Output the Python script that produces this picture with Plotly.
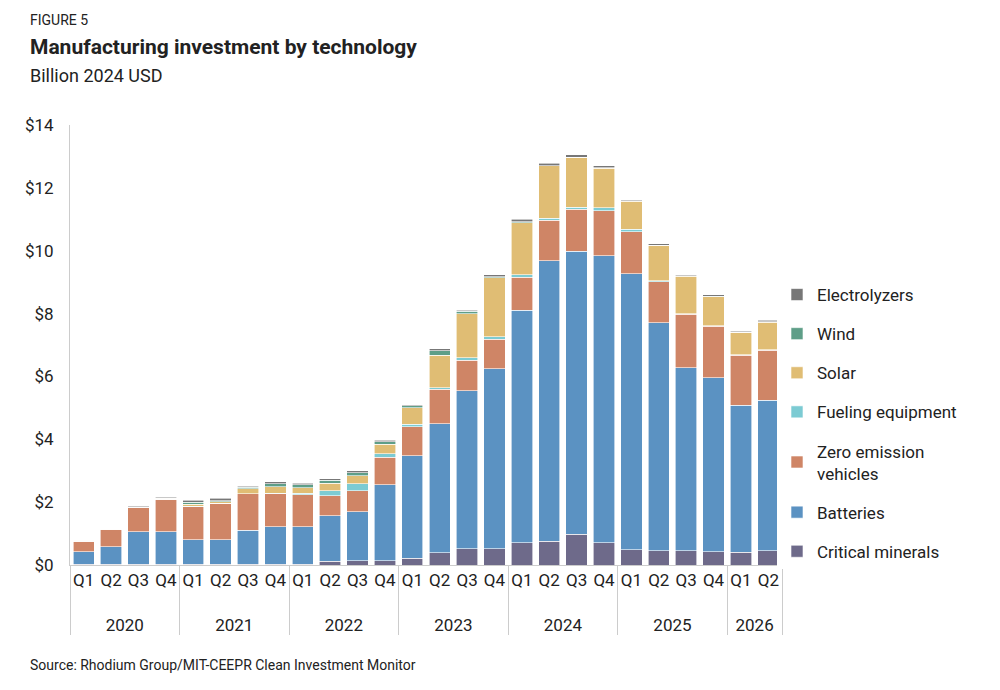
import plotly.graph_objects as go

years = ["2020"]*4 + ["2021"]*4 + ["2022"]*4 + ["2023"]*4 + ["2024"]*4 + ["2025"]*4 + ["2026"]*2
quarters = ["Q1", "Q2", "Q3", "Q4"]*6 + ["Q1", "Q2"]

critical_minerals = [0.02,0.02,0.02,0.02, 0.02,0.02,0.02,0.02, 0.02,0.12,0.14,0.14, 0.21,0.39,0.51,0.51, 0.71,0.76,0.98,0.71, 0.48,0.46,0.46,0.42, 0.40,0.45]
batteries = [0.40,0.56,1.04,1.04, 0.78,0.78,1.09,1.20, 1.20,1.44,1.55,2.42, 3.27,4.11,5.04,5.73, 7.40,8.92,9.01,9.13, 8.79,7.25,5.81,5.54, 4.69,4.79]
zev = [0.34,0.54,0.78,1.04, 1.06,1.16,1.15,1.04, 1.02,0.64,0.67,0.87, 0.92,1.09,0.96,0.94, 1.04,1.29,1.33,1.43, 1.34,1.31,1.71,1.64, 1.58,1.59]
fueling = [0,0,0,0, 0.01,0.01,0.01,0.02, 0.04,0.16,0.23,0.11, 0.08,0.05,0.09,0.09, 0.09,0.07,0.07,0.09, 0.08,0.02,0.02,0.02, 0.02,0.02]
solar = [0.02,0.02,0.02,0.03, 0.07,0.05,0.15,0.21, 0.18,0.24,0.25,0.30, 0.53,1.04,1.40,1.87, 1.65,1.66,1.58,1.27, 0.89,1.13,1.19,0.92, 0.71,0.88]
wind = [0,0,0,0, 0.06,0.03,0.06,0.10, 0.10,0.10,0.09,0.08, 0.06,0.14,0.07,0.03, 0.03,0.01,0.01,0.01, 0.01,0.01,0.01,0.01, 0.01,0.01]
electrolyzers = [0.02,0.02,0.02,0.02, 0.06,0.08,0.02,0.06, 0.04,0.05,0.07,0.05, 0.03,0.06,0.03,0.07, 0.08,0.07,0.07,0.06, 0.03,0.04,0.04,0.05, 0.03,0.04]

series = [
    ("Critical minerals", critical_minerals, "#6e6a8a"),
    ("Batteries", batteries, "#5b92c2"),
    ("Zero emission<br>vehicles", zev, "#cf8566"),
    ("Fueling equipment", fueling, "#7ccbd3"),
    ("Solar", solar, "#e0bd74"),
    ("Wind", wind, "#5e9e88"),
    ("Electrolyzers", electrolyzers, "#777777"),
]

year_labels = ["<br>" + y for y in years]

fig = go.Figure()
for i, (name, vals, col) in enumerate(series):
    fig.add_trace(go.Bar(x=[year_labels, quarters], y=vals, name=name, legendgroup=f"g{i}",
                         legendrank=100 - i,
                         marker=dict(color=col, line=dict(color="white", width=0.6))))

L, R, T, B = 62, 226, 117, 133

def py2paper(py):
    return 1 - (py - 125) / 440

def px2paper(px):
    return (px - 70) / 712

fig.update_layout(
    barmode="stack", bargap=0.22,
    width=1000, height=690,
    paper_bgcolor="white", plot_bgcolor="white",
    font=dict(family="Roboto, Arial, sans-serif", size=17, color="#222"),
    margin=dict(l=L, r=R, t=T, b=B, autoexpand=False),
    showlegend=True,
    legend=dict(traceorder="grouped", x=px2paper(777), xanchor="left", y=py2paper(423),
                yanchor="middle", font=dict(size=17), tracegroupgap=14, itemwidth=30),
    xaxis=dict(type="multicategory", showline=True, linecolor="#ccc", showdividers=True,
               dividercolor="#ccc", dividerwidth=1, tickfont=dict(size=17), ticks="", tickangle=0),
    yaxis=dict(range=[0, 14], dtick=2, tickprefix="$", showgrid=False, showline=True,
               linecolor="#ccc", tickfont=dict(size=17), zeroline=False, ticklabelstandoff=12),
)

def ann(text, py, size):
    fig.add_annotation(text=text, xref="paper", yref="paper", x=px2paper(28), xanchor="left",
                       y=py2paper(py), yanchor="middle", showarrow=False, font=dict(size=size))

ann("FIGURE 5", 20, 14)
ann("<b>Manufacturing investment by technology</b>", 47, 21)
ann("Billion 2024 USD", 75, 18)
ann("Source: Rhodium Group/MIT-CEEPR Clean Investment Monitor", 665, 14)

fig.write_html("out.html")
